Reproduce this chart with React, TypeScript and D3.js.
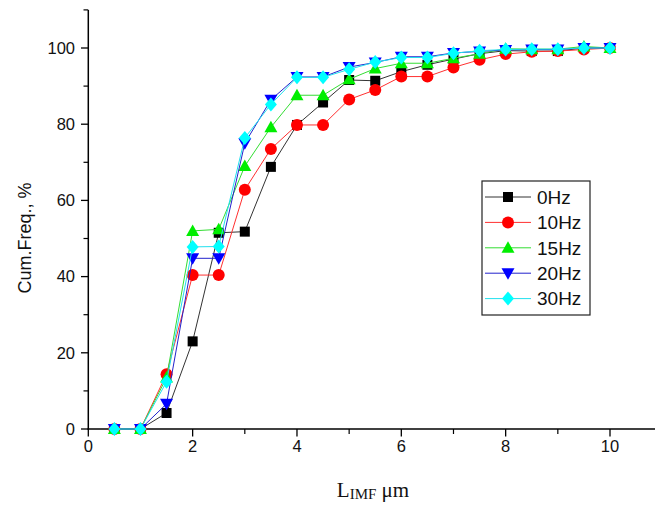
import React from "react";
import * as d3 from "d3";

const xs = [0.5, 1, 1.5, 2, 2.5, 3, 3.5, 4, 4.5, 5, 5.5, 6, 6.5, 7, 7.5, 8, 8.5, 9, 9.5, 10];
const hz0 = [0, 0, 4.2, 23, 51.5, 51.8, 68.8, 79.8, 85.7, 91.6, 91.4, 93.8, 95.6, 97.1, 98.5, 99.3, 99.2, 99.2, 100, 100];
const hz10 = [0, 0, 14.4, 40.4, 40.4, 62.8, 73.5, 79.8, 79.8, 86.5, 89, 92.5, 92.5, 94.9, 96.9, 98.4, 99, 99.2, 99.6, 100];
const hz15 = [0, 0, 13.5, 52, 52.4, 69, 79.2, 87.6, 87.6, 91.8, 94.6, 96, 96, 97.3, 98.5, 99.8, 99.7, 99.7, 100.4, 100];
const hz20 = [0, 0, 6.6, 44.8, 44.8, 75, 86.4, 92.4, 92.4, 95, 96.2, 97.7, 97.7, 98.7, 99.1, 99.5, 99.6, 99.6, 100, 100];
const hz30 = [0, 0, 12.4, 47.8, 47.9, 76.4, 85.2, 92.3, 92.3, 94.4, 96.3, 97.5, 97.5, 98.6, 99.3, 99.6, 99.7, 99.7, 100, 100];
const seriesNames = ["0Hz", "10Hz", "15Hz", "20Hz", "30Hz"];
const xTicks = [0, 2, 4, 6, 8, 10];
const yTicks = [0, 20, 40, 60, 80, 100];

const seriesData = [hz0, hz10, hz15, hz20, hz30];
const lineColors = ["#333333", "#ff3030", "#33dd33", "#2222cc", "#22e0ee"];
const fillColors = ["#000000", "#ff0000", "#00ee00", "#0000ff", "#00ffff"];
const shapes = ["square", "circle", "triangle", "down", "diamond"];

const x = d3.scaleLinear().domain([0, 10]).range([88.3, 610]);
const y = d3.scaleLinear().domain([0, 100]).range([429, 48]);

function Marker({ shape, cx, cy, color }: { shape: string; cx: number; cy: number; color: string }) {
  if (shape === "square") return <rect x={cx - 5} y={cy - 5} width={10} height={10} fill={color} />;
  if (shape === "circle") return <circle cx={cx} cy={cy} r={6} fill={color} />;
  if (shape === "triangle")
    return <path d={`M${cx},${cy - 6.5} L${cx + 6.5},${cy + 5} L${cx - 6.5},${cy + 5} Z`} fill={color} />;
  if (shape === "down")
    return <path d={`M${cx},${cy + 6.5} L${cx + 6.5},${cy - 5} L${cx - 6.5},${cy - 5} Z`} fill={color} />;
  return <path d={`M${cx},${cy - 7} L${cx + 6},${cy} L${cx},${cy + 7} L${cx - 6},${cy} Z`} fill={color} />;
}

export default function App() {
  const line = d3
    .line<number>()
    .x((_, i) => x(xs[i]))
    .y((d) => y(d));
  const minorX = d3.range(1, 11, 2);
  const minorY = [10, 30, 50, 70, 90, 110];
  const font = "Arial, 'Liberation Sans', sans-serif";
  const legX = 482;
  const legY = 181;
  return (
    <svg
      width={655}
      height={506}
      style={{ position: "absolute", left: 0, top: 0, background: "#fff" }}
      fontFamily={font}
    >
      <rect width={655} height={506} fill="#fff" />
      {/* axes */}
      <line x1={88.3} y1={10} x2={88.3} y2={429.5} stroke="#000" strokeWidth={1.5} />
      <line x1={87.5} y1={429} x2={655} y2={429} stroke="#000" strokeWidth={1.5} />
      {yTicks.map((t) => (
        <g key={"yt" + t}>
          <line x1={81} x2={88.3} y1={y(t)} y2={y(t)} stroke="#000" strokeWidth={1.3} />
          <text x={75} y={y(t)} dy="0.35em" textAnchor="end" fontSize={16.5} fill="#111">
            {t}
          </text>
        </g>
      ))}
      {minorY.map((t) => (
        <line key={"ym" + t} x1={83.5} x2={88.3} y1={y(t)} y2={y(t)} stroke="#000" strokeWidth={1.2} />
      ))}
      {xTicks.map((t) => (
        <g key={"xt" + t}>
          <line x1={x(t)} x2={x(t)} y1={429} y2={436.5} stroke="#000" strokeWidth={1.3} />
          <text x={x(t)} y={452} textAnchor="middle" fontSize={16.5} fill="#111">
            {t}
          </text>
        </g>
      ))}
      {minorX.map((t) => (
        <line key={"xm" + t} x1={x(t)} x2={x(t)} y1={429} y2={434} stroke="#000" strokeWidth={1.2} />
      ))}
      {/* axis titles */}
      <text
        transform="translate(31,238) rotate(-90)"
        textAnchor="middle"
        fontSize={18}
        fill="#111"
      >
        Cum.Freq., %
      </text>
      <text x={373} y={497} textAnchor="middle" fontFamily="'Liberation Serif', 'Times New Roman', serif" fontSize={21} fill="#111">
        <tspan>L</tspan>
        <tspan fontSize={15} dy={2}>IMF</tspan>
        <tspan dy={-2}> μm</tspan>
      </text>
      {/* series */}
      {seriesData.map((s, si) => (
        <g key={"s" + si}>
          <path d={line(s) || ""} fill="none" stroke={lineColors[si]} strokeWidth={1} />
          {s.map((v, i) => (
            <Marker key={i} shape={shapes[si]} cx={x(xs[i])} cy={y(v)} color={fillColors[si]} />
          ))}
        </g>
      ))}
      {/* legend */}
      <rect x={legX} y={legY} width={108} height={134} fill="#fff" stroke="#222" strokeWidth={1.2} />
      {seriesNames.map((n, i) => {
        const cy = legY + 16 + i * 25.4;
        return (
          <g key={"l" + n}>
            <line x1={legX + 3} x2={legX + 49} y1={cy} y2={cy} stroke={lineColors[i]} strokeWidth={1} />
            <Marker shape={shapes[i]} cx={legX + 26} cy={cy} color={fillColors[i]} />
            <text x={legX + 55} y={cy} dy="0.36em" fontSize={19} fill="#111">
              {n}
            </text>
          </g>
        );
      })}
    </svg>
  );
}
